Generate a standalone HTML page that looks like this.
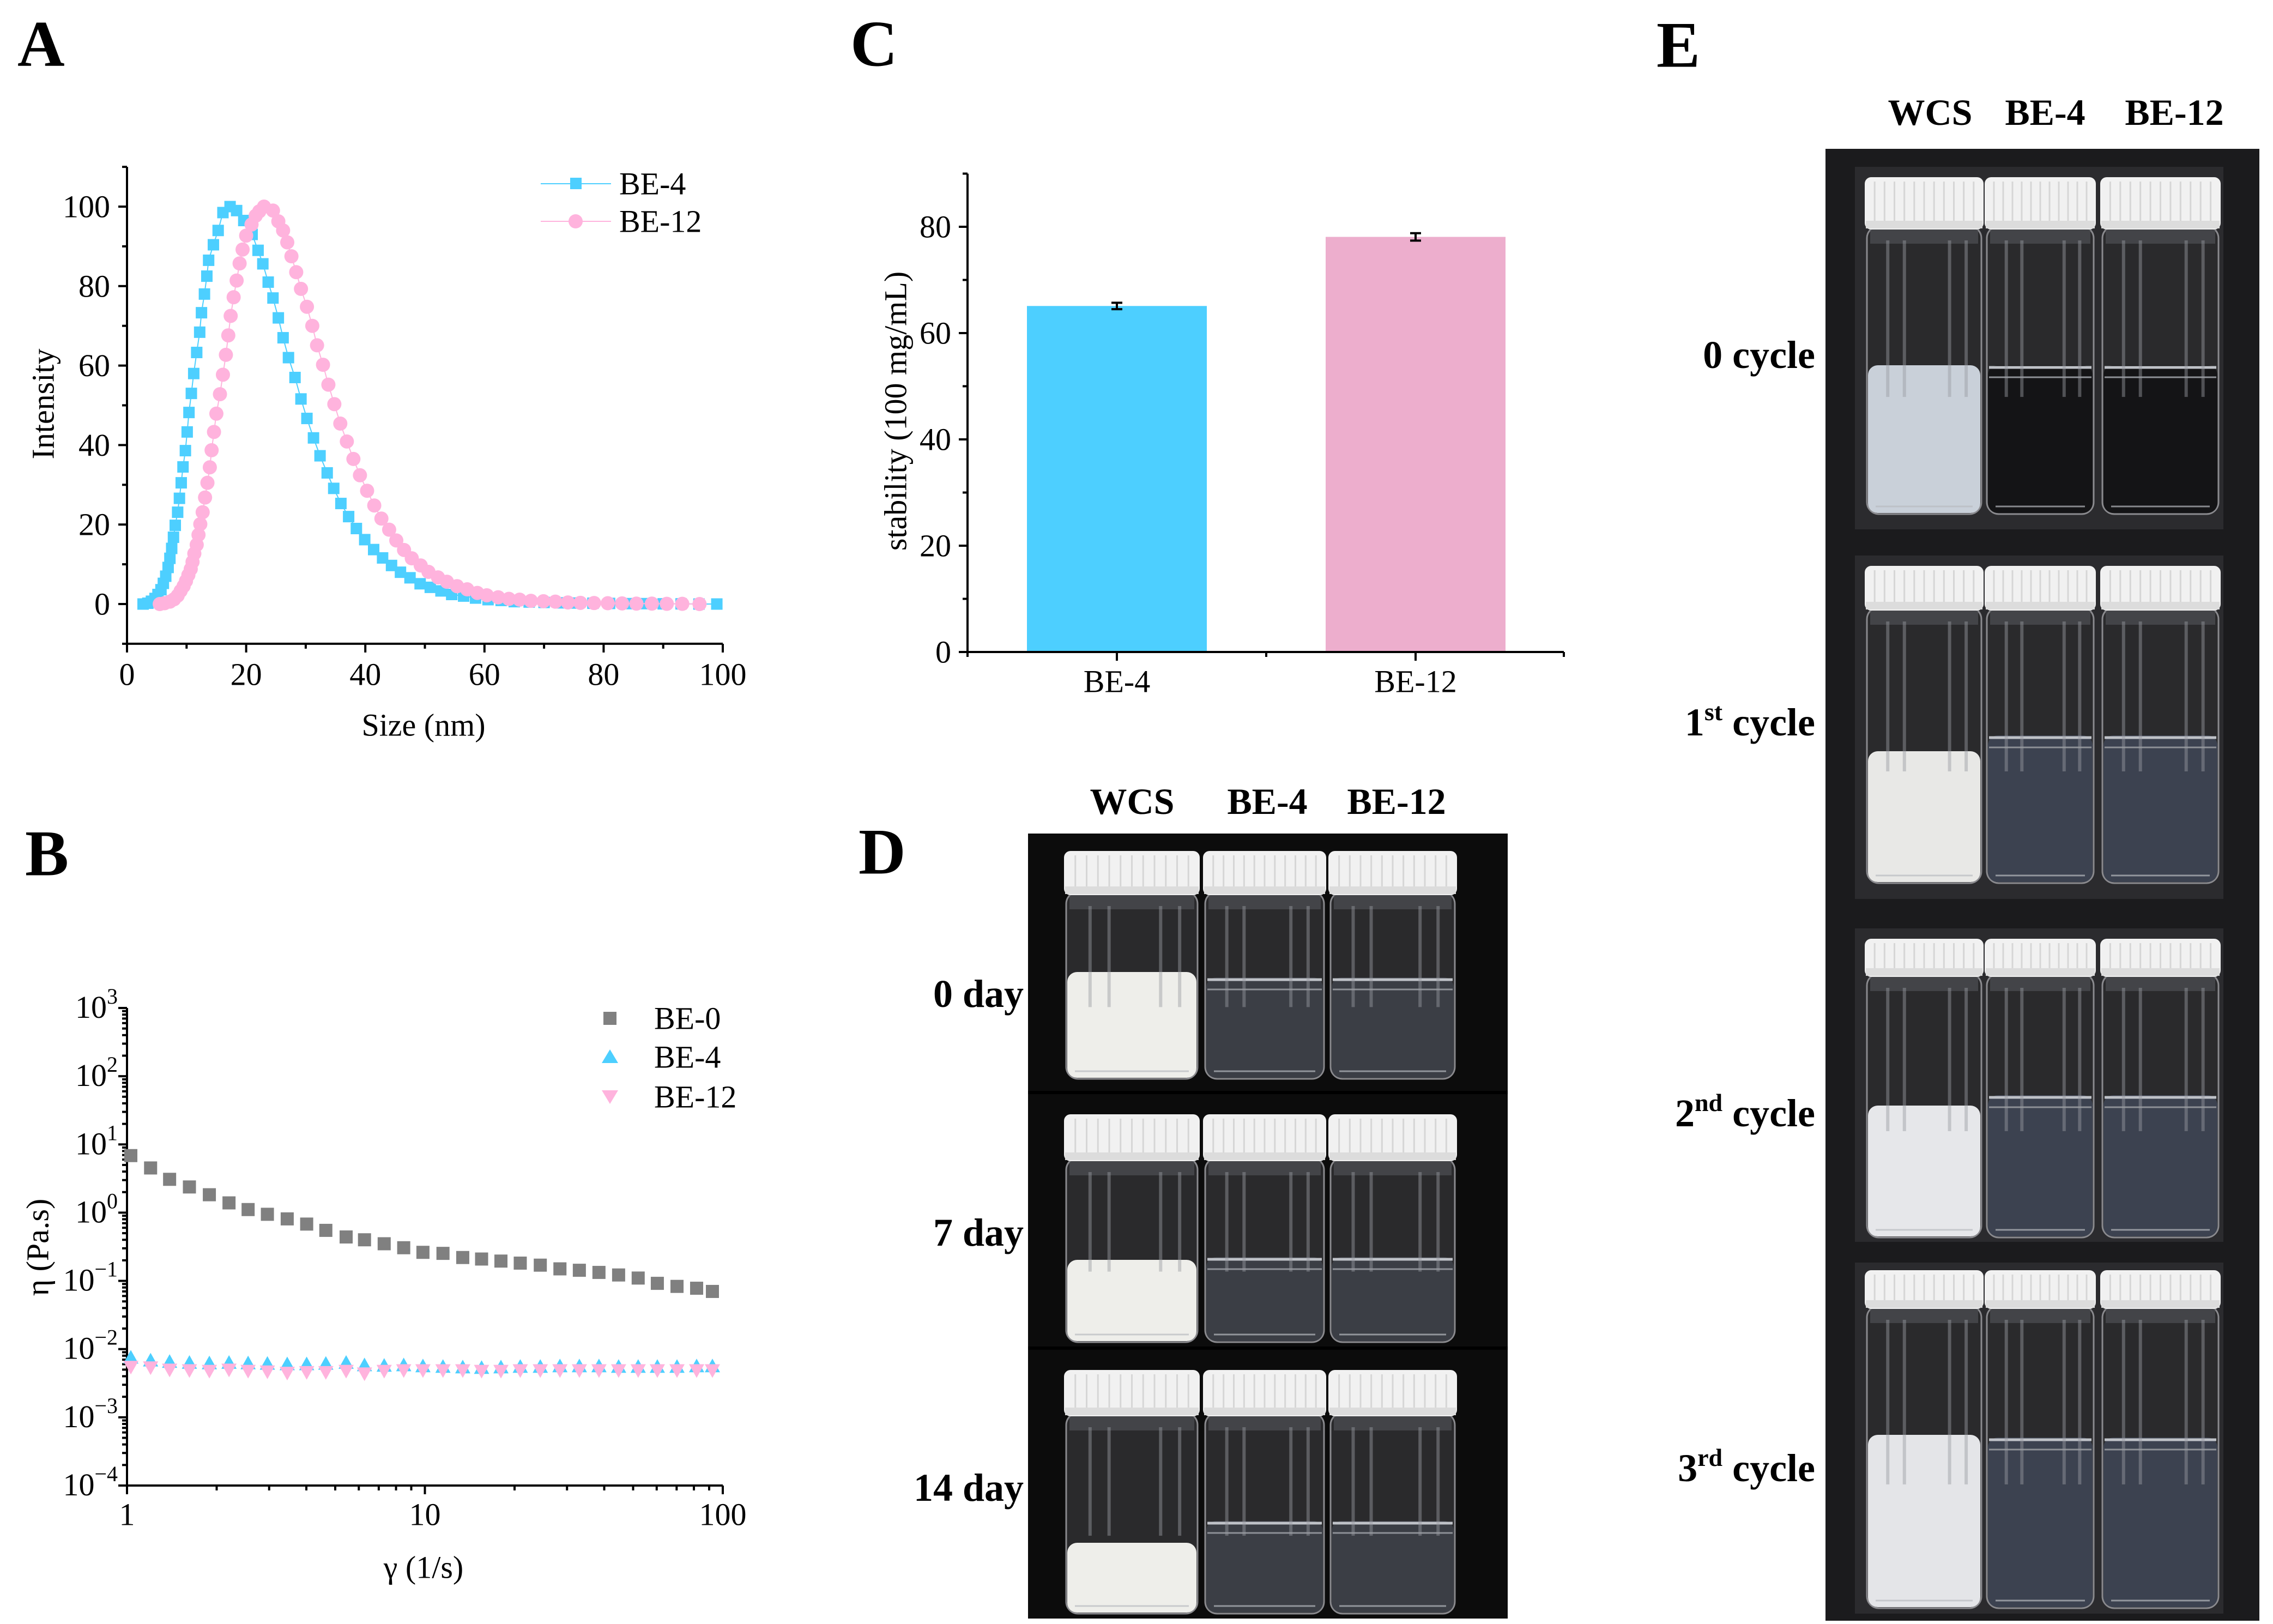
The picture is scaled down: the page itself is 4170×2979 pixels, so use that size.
<!DOCTYPE html>
<html><head><meta charset="utf-8"><title>Figure</title>
<style>
html,body{margin:0;padding:0;background:#fff;}
svg{display:block;}
text{font-family:"Liberation Serif",serif;}
</style></head>
<body>
<svg id="fig" width="4170" height="2979" viewBox="0 0 4170 2979" xmlns="http://www.w3.org/2000/svg">
<rect width="4170" height="2979" fill="#fff"/>
<g id="panelA"></g>
<g id="panelB"></g>
<g id="panelC"></g>
<g id="panelD"></g>
<g id="panelE"></g>
</svg>
<script>
// ---------- Panel A data ----------
const aBE4x = [2.7,3.5,4.1,4.7,5.2,5.7,6.1,6.5,6.9,7.2,7.5,7.8,8.1,8.5,8.8,9.1,9.4,9.8,10.1,10.4,10.8,11.2,11.7,12.2,12.5,13,13.4,13.7,14.5,15.3,16.1,17.3,18.4,19.6,21,22,22.8,23.7,24.5,25.4,26.2,27.1,28.2,29.2,30.2,31.3,32.4,33.6,34.7,35.9,37.2,38.5,39.9,41.4,42.9,44.4,45.9,47.5,49.2,50.9,52.7,54.5,56.5,58.5,60.6,62.8,65,67.5,70,72.6,75.4,78.2,81,84,87,90,93,96,99];
const aBE4y = [0,0.2,0.7,1.4,2.4,3.6,5.2,7,9.2,11.5,14,16.8,19.8,23.1,26.6,30.5,34.5,38.6,43.3,48.2,53,58,63.3,68.4,73.3,78,82.5,86.5,90.4,94,98.5,100,99,96.5,93,89,85.6,81,77,72,67,62,57,51.6,46.7,41.8,37.3,33,29.1,25.3,22,19,16.2,13.7,11.6,9.7,8,6.6,5.1,4.2,3.3,2.4,2,1.5,1.1,0.9,0.6,0.5,0.4,0.3,0.25,0.2,0.15,0.1,0.1,0.05,0.05,0,0];
const aBE12x = [5.5,6.3,7.2,7.9,8.5,9,9.5,9.9,10.3,10.7,11,11.3,11.7,12,12.3,12.7,13.1,13.5,13.9,14.2,14.6,15,15.6,16.1,16.6,17,17.4,17.9,18.4,18.9,19.4,20,20.9,21.6,22.2,23,24.5,25.4,26.2,26.9,27.6,28.4,29.2,30.2,31.1,31.9,32.9,33.8,34.8,35.8,36.9,38,39.1,40.3,41.5,42.7,44,45.2,46.5,47.8,49.3,50.6,52.2,53.7,55.4,57.1,58.8,60.4,62.3,64.1,65.9,67.8,69.9,71.9,74,76.1,78.4,80.7,83.1,85.5,88.1,90.6,93.2,96.1];
const aBE12y = [0,0.2,0.6,1.2,2.1,3.3,4.5,5.8,7.3,8.8,10.6,12.7,14.9,17.4,20.1,23.1,26.8,30.5,34.4,38.7,43.3,47.9,52.8,57.7,62.7,67.6,72.5,77.2,81.4,85.7,89.2,92.7,95.5,97.7,98.8,100,99,96.3,94,91,87.5,83.5,79.3,74.8,70,65.1,60.2,55.2,50.3,45.4,40.9,36.5,32.4,28.5,24.8,21.5,18.7,16,13.6,11.5,9.7,8.1,6.7,5.6,4.5,3.7,2.8,2.2,1.7,1.3,1.1,0.8,0.7,0.6,0.4,0.3,0.25,0.2,0.15,0.1,0.1,0.05,0.05,0];
const aXTicks = [0,20,40,60,80,100];
const aYTicks = [0,20,40,60,80,100];

// ---------- Panel B data ----------
const bShear = [1.03,1.2,1.39,1.62,1.89,2.2,2.55,2.96,3.45,4.01,4.65,5.44,6.27,7.3,8.49,9.85,11.5,13.4,15.5,18,20.9,24.4,28.4,33,38.4,44.7,52,60.3,70.2,81.7,92.3];
const bBE0 = [6.86,4.52,3.08,2.38,1.83,1.39,1.11,0.946,0.81,0.68,0.55,0.44,0.40,0.35,0.306,0.262,0.253,0.22,0.209,0.195,0.182,0.17,0.15,0.143,0.133,0.122,0.11,0.092,0.083,0.078,0.07];
const bBE4 = [0.0075,0.0068,0.0065,0.0063,0.0062,0.0063,0.0062,0.0061,0.006,0.006,0.0061,0.0063,0.0058,0.0057,0.0058,0.0056,0.0055,0.0054,0.0053,0.0054,0.0055,0.0055,0.0056,0.0056,0.0056,0.0055,0.0055,0.0055,0.0055,0.0056,0.0056];
const bBE12 = [0.0055,0.0054,0.005,0.0049,0.0048,0.005,0.0048,0.0047,0.0045,0.0046,0.0046,0.0048,0.0044,0.0048,0.0049,0.0049,0.0049,0.0049,0.0048,0.0048,0.0049,0.0049,0.0049,0.0049,0.0049,0.0049,0.0049,0.0049,0.0049,0.0049,0.0049];
const bYExp = [-4,-3,-2,-1,0,1,2,3];
const bXTicks = [1,10,100];

// ---------- Panel C data ----------
const cCats = ["BE-4","BE-12"];
const cVals = [65.1,78.1];
const cErr = [0.6,0.7];
const cYTicks = [0,20,40,60,80];

const NS="http://www.w3.org/2000/svg";
function el(parent,tag,attrs){const e=document.createElementNS(NS,tag);for(const k in attrs)e.setAttribute(k,attrs[k]);parent.appendChild(e);return e;}
function txt(parent,x,y,s,size,anchor,weight,extra){const t=el(parent,'text',{x:x,y:y,'font-size':size,'text-anchor':anchor||'middle','font-weight':weight||'normal','dominant-baseline':'central'});if(extra)for(const k in extra)t.setAttribute(k,extra[k]);t.textContent=s;return t;}

// ================= PANEL A =================
(function(){
const g=document.getElementById('panelA');
const X0=233,X1=1326,Y0=1108,Y100=379;
const sx=v=>X0+(X1-X0)*v/100, sy=v=>Y0-(Y0-Y100)*v/100;
const yTop=sy(110), yBot=sy(-10);
let t=txt(g,32,80,'A',120,'start','bold');


const ax=el(g,'g',{stroke:'#000','stroke-width':4,fill:'none'});


el(ax,'line',{x1:X0,y1:yTop,x2:X0,y2:yBot+2});
el(ax,'line',{x1:X0-2,y1:yBot,x2:X1,y2:yBot});
for(let v=0;v<=100;v+=10){const x=sx(v);el(ax,'line',{x1:x,y1:yBot,x2:x,y2:yBot+(v%20===0?16:9)});}
for(let v=-10;v<=110;v+=10){const y=sy(v);el(ax,'line',{x1:X0,y1:y,x2:X0-(v%20===0?16:9),y2:y});}
aXTicks.forEach(v=>{const l=txt(g,sx(v),1237,String(v),58);

});
aYTicks.forEach(v=>{const l=txt(g,202,sy(v),String(v),58,'end');

});
t=txt(g,79,741,'Intensity',58,'middle','normal',{transform:'rotate(-90 79 741)'});


t=txt(g,777,1330,'Size (nm)',58);


// BE-4
const s1=el(g,'g',{});


el(s1,'polyline',{points:aBE4x.map((x,i)=>sx(x)+','+sy(aBE4y[i])).join(' '),fill:'none',stroke:'#4dcfff','stroke-width':2});
aBE4x.forEach((x,i)=>{const r=el(s1,'rect',{x:sx(x)-10.5,y:sy(aBE4y[i])-10.5,width:21,height:21,fill:'#4dcfff'});

});
const s2=el(g,'g',{});


el(s2,'polyline',{points:aBE12x.map((x,i)=>sx(x)+','+sy(aBE12y[i])).join(' '),fill:'none',stroke:'#ffb3dd','stroke-width':2});
aBE12x.forEach((x,i)=>{const c=el(s2,'circle',{cx:sx(x),cy:sy(aBE12y[i]),r:13,fill:'#ffb3dd'});

});
// legend
const lg=el(g,'g',{});


el(lg,'line',{x1:992,y1:337,x2:1121,y2:337,stroke:'#4dcfff','stroke-width':2});
el(lg,'rect',{x:1046,y:326,width:21,height:21,fill:'#4dcfff'});
txt(lg,1136,337,'BE-4',58,'start');
el(lg,'line',{x1:992,y1:406,x2:1121,y2:406,stroke:'#ffb3dd','stroke-width':2});
el(lg,'circle',{cx:1056,cy:406,r:13,fill:'#ffb3dd'});
txt(lg,1136,406,'BE-12',58,'start');
})();

// ================= PANEL B =================
(function(){
const g=document.getElementById('panelB');
const X0=233,X1=1326,YT=1849,YB=2725;
const sx=v=>X0+(X1-X0)*Math.log10(v)/2;
const sy=v=>YT+(YB-YT)*(3-Math.log10(v))/7;
let t=txt(g,46,1565,'B',120,'start','bold');


const ax=el(g,'g',{stroke:'#000','stroke-width':4,fill:'none'});


el(ax,'line',{x1:X0,y1:YT,x2:X0,y2:YB+2});
el(ax,'line',{x1:X0-2,y1:YB,x2:X1,y2:YB});
for(let d=0;d<2;d++){for(let m=1;m<10;m++){const v=Math.pow(10,d)*m;const x=sx(v);el(ax,'line',{x1:x,y1:YB,x2:x,y2:YB+(m===1?16:9)});}}
el(ax,'line',{x1:X1,y1:YB,x2:X1,y2:YB+16});
for(let e=-4;e<3;e++){for(let m=1;m<10;m++){const y=sy(m*Math.pow(10,e));el(ax,'line',{x1:X0,y1:y,x2:X0-(m===1?16:9),y2:y});}}
el(ax,'line',{x1:X0,y1:YT,x2:X0-16,y2:YT});
bXTicks.forEach(v=>{const l=txt(g,sx(v),2778,String(v),58);

});
bYExp.forEach(e=>{const l=el(g,'text',{x:216,y:sy(Math.pow(10,e))+18,'font-size':58,'text-anchor':'end'});


const a=el(l,'tspan',{});a.textContent='10';
const b=el(l,'tspan',{'font-size':40,dy:-26});b.textContent=(e<0?'\u2212'+(-e):String(e));});
t=txt(g,69,2288,'\u03b7 (Pa.s)',58,'middle','normal',{transform:'rotate(-90 69 2288)'});


t=txt(g,777,2875,'\u03b3 (1/s)',58);


const s0=el(g,'g',{});


bShear.forEach((x,i)=>{const r=el(s0,'rect',{x:sx(x)-12,y:sy(bBE0[i])-12,width:24,height:24,fill:'#808080'});

});
const s4=el(g,'g',{});


bShear.forEach((x,i)=>{const cx=sx(x),cy=sy(bBE4[i]);const p=el(s4,'polygon',{points:`${cx},${cy-14} ${cx+14},${cy+11} ${cx-14},${cy+11}`,fill:'#4dcfff'});

});
const s12=el(g,'g',{});


bShear.forEach((x,i)=>{const cx=sx(x),cy=sy(bBE12[i]);const p=el(s12,'polygon',{points:`${cx-14},${cy-11} ${cx+14},${cy-11} ${cx},${cy+14}`,fill:'#ffb3dd'});

});
const lg=el(g,'g',{});


el(lg,'rect',{x:1107,y:1856,width:24,height:24,fill:'#808080'});
txt(lg,1200,1868,'BE-0',58,'start');
el(lg,'polygon',{points:'1119,1925 1134,1950 1104,1950',fill:'#4dcfff'});
txt(lg,1200,1939,'BE-4',58,'start');
el(lg,'polygon',{points:'1104,2000 1134,2000 1119,2025',fill:'#ffb3dd'});
txt(lg,1200,2012,'BE-12',58,'start');
})();

// ================= PANEL C =================
(function(){
const g=document.getElementById('panelC');
const X0=1775,X1=2869,Y0=1196,Y80=416;
const sy=v=>Y0-(Y0-Y80)*v/80;
const cx=[2049,2597];
const bw=330;
let t=txt(g,1560,80,'C',120,'start','bold');


const colors=['#4dcfff','#edaecd'];
cCats.forEach((c,i)=>{const r=el(g,'rect',{x:cx[i]-bw/2,y:sy(cVals[i]),width:bw,height:Y0-sy(cVals[i]),fill:colors[i]});


const eb=el(g,'g',{stroke:'#000','stroke-width':4});


el(eb,'line',{x1:cx[i],y1:sy(cVals[i]+cErr[i]),x2:cx[i],y2:sy(cVals[i]-cErr[i])});
el(eb,'line',{x1:cx[i]-10,y1:sy(cVals[i]+cErr[i]),x2:cx[i]+10,y2:sy(cVals[i]+cErr[i])});
el(eb,'line',{x1:cx[i]-10,y1:sy(cVals[i]-cErr[i]),x2:cx[i]+10,y2:sy(cVals[i]-cErr[i])});
const l=txt(g,cx[i],1250,c,58);

});
const ax=el(g,'g',{stroke:'#000','stroke-width':4,fill:'none'});


el(ax,'line',{x1:X0,y1:sy(90),x2:X0,y2:Y0+2});
el(ax,'line',{x1:X0-2,y1:Y0,x2:X1,y2:Y0});
for(let v=0;v<=90;v+=10){el(ax,'line',{x1:X0,y1:sy(v),x2:X0-(v%20===0?16:9),y2:sy(v)});}
[X0,cx[0],(cx[0]+cx[1])/2,cx[1],X1].forEach((x,i)=>el(ax,'line',{x1:x,y1:Y0,x2:x,y2:Y0+(i%2===1?16:9)}));
cYTicks.forEach(v=>{const l=txt(g,1745,sy(v),String(v),58,'end');

});
t=txt(g,1643,754,'stability (100 mg/mL)',58,'middle','normal',{transform:'rotate(-90 1643 754)'});


})();

// ================= Jar drawing =================
function jar(g,x1,x2,capT,capB,bodyB,liqT,milkT,milkColor,clearColor){
  const w=x2-x1;
  // glass body
  el(g,'rect',{x:x1+4,y:capB-6,width:w-8,height:bodyB-capB+6,rx:22,fill:'#2a2a2c',stroke:'#8a8a8e','stroke-width':3});
  // neck highlight
  el(g,'rect',{x:x1+10,y:capB-4,width:w-20,height:30,fill:'#55575c',opacity:0.6});
  // liquid
  if(milkT!==null){
    el(g,'rect',{x:x1+6,y:milkT,width:w-12,height:bodyB-milkT-2,rx:18,fill:milkColor});
  }
  if(liqT!==null){
    el(g,'rect',{x:x1+6,y:liqT,width:w-12,height:bodyB-liqT-2,rx:18,fill:clearColor||'#3a3d44'});
    el(g,'line',{x1:x1+8,y1:liqT+4,x2:x2-8,y2:liqT+4,stroke:'#bfc2c8','stroke-width':5});
    el(g,'line',{x1:x1+8,y1:liqT+22,x2:x2-8,y2:liqT+22,stroke:'#8d9096','stroke-width':3});
  }
  // vertical reflections
  [0.18,0.32,0.7,0.84].forEach(f=>el(g,'rect',{x:x1+w*f,y:capB+20,width:6,height:(bodyB-capB)*0.55,fill:'#9a9ca2',opacity:0.45}));
  el(g,'line',{x1:x1+20,y1:bodyB-14,x2:x2-20,y2:bodyB-14,stroke:'#b8bbc0','stroke-width':3,opacity:0.7});
  // cap
  el(g,'rect',{x:x1,y:capT,width:w,height:capB-capT,rx:12,fill:'#f1f1f1'});
  for(let i=1;i<12;i++){el(g,'line',{x1:x1+w*i/12,y1:capT+8,x2:x1+w*i/12,y2:capB-14,stroke:'#d6d6d6','stroke-width':3});}
  el(g,'rect',{x:x1+2,y:capB-16,width:w-4,height:14,fill:'#dcdcdc'});
}

// ================= PANEL D =================
(function(){
const g=document.getElementById('panelD');
let t=txt(g,1575,1562,'D',120,'start','bold');


[['WCS',2077],['BE-4',2325],['BE-12',2562]].forEach(h=>{const l=txt(g,h[1],1470,h[0],68,'middle','bold');

});
const bg=el(g,'rect',{x:1886,y:1529,width:880,height:1440,fill:'#0c0c0c'});


const rows=[
 {lab:'0 day',ly:1823,capT:1561,capB:1642,bodyB:1979,liq:1793,milk:1783},
 {lab:'7 day',ly:2261,capT:2044,capB:2130,bodyB:2462,liq:2306,milk:2311},
 {lab:'14 day',ly:2729,capT:2513,capB:2598,bodyB:2960,liq:2790,milk:2830}];
const cols=[[1952,2201],[2207,2433],[2437,2673]];
rows.forEach((r,ri)=>{
 const rg=el(g,'g',{});
 
 
 if(ri>0)el(rg,'line',{x1:1886,y1:r.capT-40,x2:2766,y2:r.capT-40,stroke:'#000','stroke-width':6});
 cols.forEach((c,ci)=>{
   if(ci===0){jar(rg,c[0],c[1],r.capT,r.capB,r.bodyB,null,r.milk,'#eeeeea');}
   else{jar(rg,c[0],c[1],r.capT,r.capB,r.bodyB,r.liq,null,null,'#3b3e45');}
 });
 const l=txt(g,1878,r.ly,r.lab,72,'end','bold');
 
 
});
})();

// ================= PANEL E =================
(function(){
const g=document.getElementById('panelE');
let t=txt(g,3039,82,'E',120,'start','bold');


[['WCS',3541],['BE-4',3752],['BE-12',3989]].forEach(h=>{const l=txt(g,h[1],206,h[0],68,'middle','bold');

});
const bg=el(g,'rect',{x:3349,y:273,width:796,height:2700,fill:'#1b1b1d'});


const rows=[
 {lab:'0 cycle',sup:'',ly:651,pT:306,pB:971,capT:325,capB:421,bodyB:943,liq:670,milk:670,milkC:'#c9d0d9'},
 {lab:'1',sup:'st',ly:1325,pT:1019,pB:1649,capT:1038,capB:1120,bodyB:1620,liq:1349,milk:1378,milkC:'#e8e8e6'},
 {lab:'2',sup:'nd',ly:2042,pT:1703,pB:2278,capT:1722,capB:1792,bodyB:2270,liq:2009,milk:2028,milkC:'#e6e7ea'},
 {lab:'3',sup:'rd',ly:2693,pT:2316,pB:2960,capT:2330,capB:2401,bodyB:2950,liq:2637,milk:2632,milkC:'#e4e5e8'}];
const cols=[[3421,3639],[3641,3845],[3853,4074]];
rows.forEach((r,ri)=>{
 const rg=el(g,'g',{});
 
 
 el(rg,'rect',{x:3403,y:r.pT,width:676,height:r.pB-r.pT,fill:'#2b2b2e'});
 cols.forEach((c,ci)=>{
   if(ci===0){jar(rg,c[0],c[1],r.capT,r.capB,r.bodyB,null,r.milk,r.milkC);}
   else{jar(rg,c[0],c[1],r.capT,r.capB,r.bodyB,r.liq,null,null,ri===0?'#141416':'#3c4250');}
 });
 const l=el(g,'text',{x:3330,y:r.ly+24,'font-size':72,'text-anchor':'end','font-weight':'bold'});
 
 
 if(r.sup===''){l.textContent=r.lab;}
 else{const a=el(l,'tspan',{});a.textContent=r.lab;const b=el(l,'tspan',{'font-size':46,dy:-28});b.textContent=r.sup;const c=el(l,'tspan',{dy:28});c.textContent=' cycle';}
});
})();
</script>
</body></html>
